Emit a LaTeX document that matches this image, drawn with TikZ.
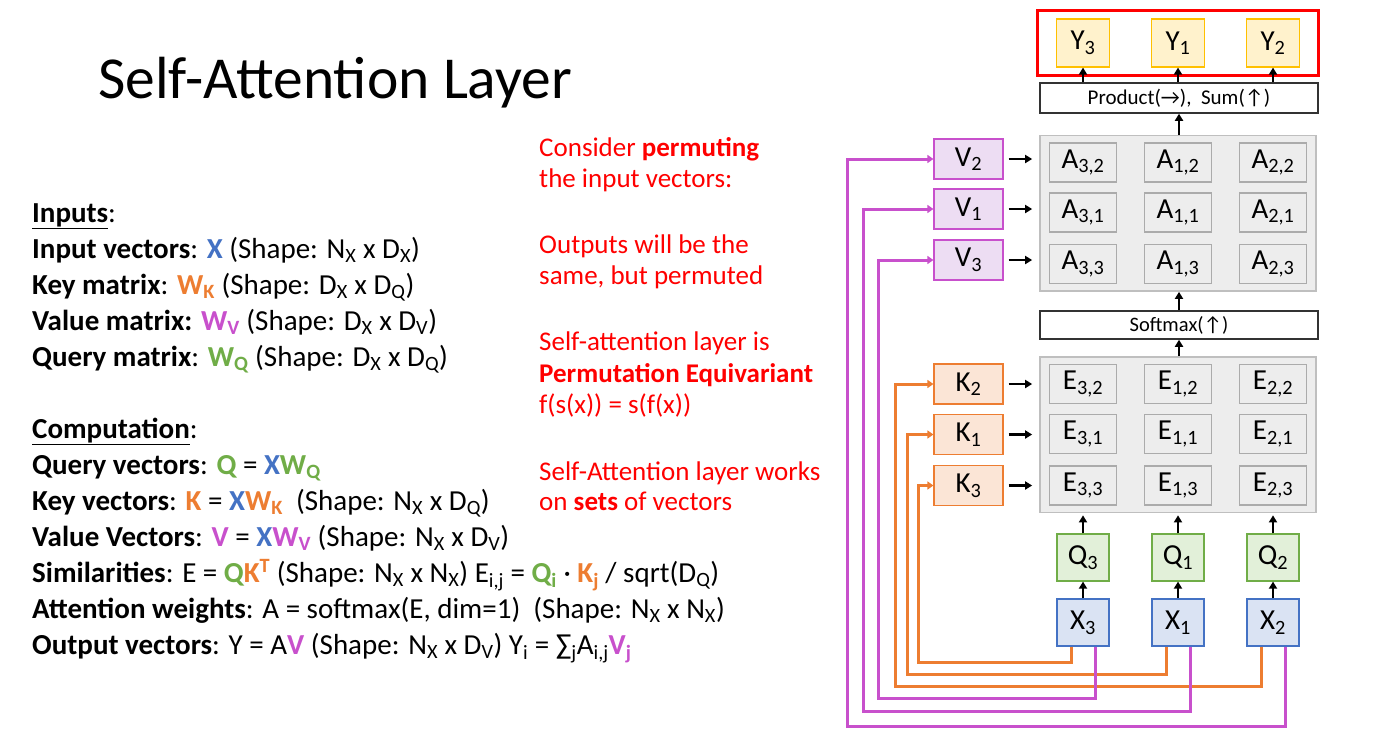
\documentclass[tikz,border=0pt]{standalone}
\usepackage{fontspec}
\setmainfont{Carlito}
\usetikzlibrary{positioning, arrows.meta, calc, fit, backgrounds}

\definecolor{cazul}{HTML}{4472C4}
\definecolor{cnaranja}{HTML}{ED7D31}
\definecolor{cmorado}{HTML}{C850CC}
\definecolor{cverde}{HTML}{70AD47}
\definecolor{cdorado}{HTML}{FFC000}
\definecolor{fazul}{HTML}{DAE3F3}
\definecolor{fnaranja}{HTML}{FBE5D6}
\definecolor{fmorado}{HTML}{EDDDF3}
\definecolor{fverde}{HTML}{E2F0D9}
\definecolor{famarillo}{HTML}{FFF2CC}
\definecolor{bcelda}{HTML}{ABABAB}
\definecolor{fcelda}{HTML}{EDEDED}
\definecolor{bgrupo}{HTML}{BFBFBF}

\newcommand{\sbs}[1]{\textsubscript{#1}}

\begin{document}
\begin{tikzpicture}[
		x=1pt, y=-1pt,
		% Textos
		titulo/.style={font=\fontsize{59.5}{64}\selectfont, anchor=base west, inner sep=0pt},
		linea/.style={font=\fontsize{29}{34}\selectfont, anchor=base west, inner sep=0pt},
		rojo/.style={font=\fontsize{27}{32}\selectfont, text=red, anchor=base west, inner sep=0pt},
		% Cajas del diagrama
		caja/.style={draw, line width=1.2pt, rectangle, minimum width=69, minimum height=40, inner sep=0pt, font=\fontsize{29}{30}\selectfont},
		vcaja/.style={caja, draw=cmorado, fill=fmorado},
		kcaja/.style={caja, draw=cnaranja, fill=fnaranja},
		ycaja/.style={caja, draw=cdorado, fill=famarillo, minimum width=53, minimum height=48},
		qcaja/.style={caja, draw=cverde, fill=fverde, minimum width=52, minimum height=47},
		xcaja/.style={caja, draw=cazul, fill=fazul, minimum width=52, minimum height=47},
		celda/.style={caja, draw=bcelda, fill=fcelda, minimum width=67, minimum height=39},
		grupo/.style={draw=bgrupo, fill=fcelda, line width=1.5pt, rectangle},
		barra/.style={draw=black!80, fill=white, line width=1.5pt, rectangle, minimum width=278, minimum height=30, inner sep=0pt},
		marco/.style={draw=red, line width=3pt, rectangle},
		% Flechas
		flecha/.style={-{Triangle[length=7pt, width=8pt]}, line width=2.5pt, draw=black},
		klinea/.style={-{Triangle[length=6pt, width=8pt]}, line width=3pt, draw=cnaranja},
		vlinea/.style={-{Triangle[length=6pt, width=8pt]}, line width=3pt, draw=cmorado}
		]
		
		% --- LIENZO ---
		\useasboundingbox (0,0) rectangle (1387,729);
		\begin{scope}[on background layer]
			\fill[white] (0,0) rectangle (1387,729);
		\end{scope}
		
		% --- TITULO ---
		\node[titulo] (titulo) at (98,98) {Self-Attention Layer};
		
		% --- ENTRADAS ---
		\node[linea] (ent0) at (32,222) {\textbf{\underline{Inputs}}:};
		\node[linea] (ent1) at (32,258) {\textbf{Input vectors}: \textbf{\color{cazul}X} (Shape: N\sbs{X} x D\sbs{X})};
		\node[linea] (ent2) at (32,294) {\textbf{Key matrix}: \textbf{\color{cnaranja}W\sbs{K}} (Shape: D\sbs{X} x D\sbs{Q})};
		\node[linea] (ent3) at (32,330) {\textbf{Value matrix:} \textbf{\color{cmorado}W\sbs{V}} (Shape: D\sbs{X} x D\sbs{V})};
		\node[linea] (ent4) at (32,366) {\textbf{Query matrix}: \textbf{\color{cverde}W\sbs{Q}} (Shape: D\sbs{X} x D\sbs{Q})};
		
		% --- CALCULO ---
		\node[linea] (cal0) at (32,438) {\textbf{\underline{Computation}}:};
		\node[linea] (cal1) at (32,474) {\textbf{Query vectors}: \textbf{\color{cverde}Q} = \textbf{{\color{cazul}X}{\color{cverde}W\sbs{Q}}}};
		\node[linea] (cal2) at (32,510) {\textbf{Key vectors}: \textbf{\color{cnaranja}K} = \textbf{{\color{cazul}X}{\color{cnaranja}W\sbs{K}}}\ \ (Shape: N\sbs{X} x D\sbs{Q})};
		\node[linea] (cal3) at (32,546) {\textbf{Value Vectors}: \textbf{\color{cmorado}V} = \textbf{{\color{cazul}X}{\color{cmorado}W\sbs{V}}} (Shape: N\sbs{X} x D\sbs{V})};
		\node[linea] (cal4) at (32,582) {\textbf{Similarities}: E = \textbf{{\color{cverde}Q}{\color{cnaranja}K\textsuperscript{T}}} (Shape: N\sbs{X} x N\sbs{X}) E\sbs{i,j} = \textbf{\color{cverde}Q\sbs{i}} · \textbf{\color{cnaranja}K\sbs{j}} / sqrt(D\sbs{Q})};
		\node[linea] (cal5) at (32,618) {\textbf{Attention weights}: A = softmax(E, dim=1)\ \ (Shape: N\sbs{X} x N\sbs{X})};
		\node[linea] (cal6) at (32,654) {\textbf{Output vectors}: Y = A\textbf{\color{cmorado}V} (Shape: N\sbs{X} x D\sbs{V}) Y\sbs{i} = ∑\sbs{j}A\sbs{i,j}\textbf{\color{cmorado}V\sbs{j}}};
		
		% --- NOTAS EN ROJO ---
		\node[rojo] (nota1) at (539,156) {Consider \textbf{permuting}};
		\node[rojo] (nota2) at (539,187) {the input vectors:};
		\node[rojo] (nota3) at (539,253) {Outputs will be the};
		\node[rojo] (nota4) at (539,284) {same, but permuted};
		\node[rojo] (nota5) at (539,350) {Self-attention layer is};
		\node[rojo] (nota6) at (539,382) {\textbf{Permutation Equivariant}};
		\node[rojo] (nota7) at (539,413) {f(s(x)) = s(f(x))};
		\node[rojo] (nota8) at (539,480) {Self-Attention layer works};
		\node[rojo] (nota9) at (539,510) {on \textbf{sets} of vectors};
		
		% --- COLUMNAS: salidas, celdas, consultas y entradas ---
		\foreach \i/\x in {3/1083, 1/1178, 2/1273} {
			\node[ycaja] (y\i) at (\x,43) {Y\sbs{\i}};
			\node[qcaja] (q\i) at (\x,557.5) {Q\sbs{\i}};
			\node[xcaja] (x\i) at (\x,622.5) {X\sbs{\i}};
			\foreach \j/\ya/\ye in {2/162.5/384, 1/212.5/434, 3/264/485.5} {
				\node[celda] (a\i\j) at (\x,\ya) {A\sbs{\i,\j}};
				\node[celda] (e\i\j) at (\x,\ye) {E\sbs{\i,\j}};
			}
		}
		
		% --- FILAS: valores y claves ---
		\foreach \j/\yv/\yk in {2/159/384, 1/209/434.5, 3/260/485.5} {
			\node[vcaja] (v\j) at (968.5,\yv) {V\sbs{\j}};
			\node[kcaja] (k\j) at (968.5,\yk) {K\sbs{\j}};
		}
		
		% --- BARRAS DE OPERACION ---
		\node[barra] (prod) at (1179,98) {\fontsize{21}{24}\selectfont Product(→),\ \ Sum(↑)};
		\node[barra, minimum height=28] (smax) at (1179,325) {\fontsize{20.5}{22}\selectfont Softmax(↑)};
		
		% --- CAJAS DE FONDO ---
		\begin{scope}[on background layer]
			\node[grupo, fit={(a32) (a23)}, inner xsep=9pt, inner ysep=7pt] (grpA) {};
			\node[grupo, fit={(e32) (e23)}, inner xsep=9pt, inner ysep=7pt] (grpE) {};
		\end{scope}
		\node[marco, fit={(y3) (y2)}, inner xsep=18pt, inner ysep=8pt] (salida) {};
		
		% --- FLECHAS VERTICALES ---
		\foreach \i in {3,1,2} {
			\draw[flecha] (y\i |- prod.north) -- (y\i.south);
			\draw[flecha] (x\i.north) -- (q\i.south);
			\draw[flecha, shorten >=2pt] (q\i.north) -- (q\i.north |- grpE.south);
		}
		\draw[flecha] (prod.south |- grpA.north) -- (prod.south);
		\draw[flecha] (smax.north) -- (smax.north |- grpA.south);
		\draw[flecha] (smax.south |- grpE.north) -- (smax.south);
		
		% --- FLECHAS HACIA LAS MATRICES ---
		\foreach \j in {2,1,3} {
			\draw[flecha, shorten <=5pt, shorten >=7pt] (v\j.east) -- (v\j.east -| grpA.west);
			\draw[flecha, shorten <=5pt, shorten >=7pt] (k\j.east) -- (k\j.east -| grpE.west);
		}
		
		% --- RETORNO DE X HACIA K Y V ---
		\foreach \n/\dx/\dy in {3/15/16, 1/26/28, 2/38/40}
			\draw[klinea] ([xshift=-12pt]x\n.south) -- ++(0,\dy) -| ($(k\n.west)-(\dx,0)$) -- (k\n.west);
		\foreach \n/\dx/\dy in {3/55/52, 1/70/65, 2/86/80}
			\draw[vlinea] ([xshift=12pt]x\n.south) -- ++(0,\dy) -| ($(v\n.west)-(\dx,0)$) -- (v\n.west);
		
	\end{tikzpicture}
\end{document}
